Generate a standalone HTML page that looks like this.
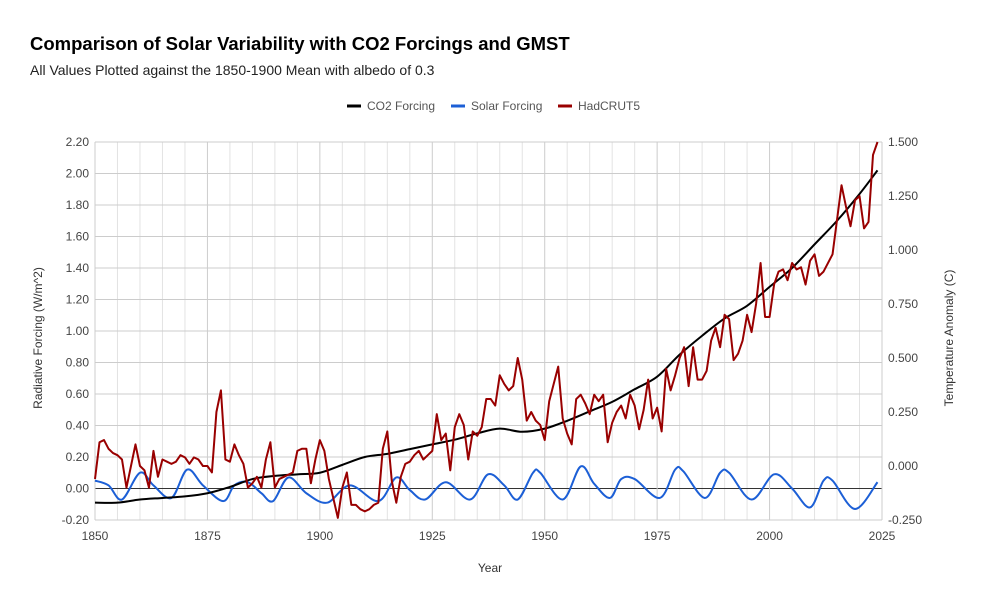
<!DOCTYPE html>
<html><head><meta charset="utf-8"><style>
body{margin:0;background:#fff;font-family:"Liberation Sans",sans-serif}
svg text{font-family:"Liberation Sans",sans-serif}
</style></head><body>
<svg id="c" width="986" height="605">
<text x="30" y="50" font-size="18.5" font-weight="bold" fill="#000">Comparison of Solar Variability with CO2 Forcings and GMST</text>
<text x="30" y="75" font-size="14" fill="#222">All Values Plotted against the 1850-1900 Mean with albedo of 0.3</text>
<g font-size="12" fill="#555">
<g><line x1="347" y1="106" x2="361" y2="106" stroke="#000" stroke-width="3"/><text x="367" y="110">CO2 Forcing</text></g>
<g><line x1="451" y1="106" x2="465" y2="106" stroke="#1c5fd6" stroke-width="3"/><text x="471" y="110">Solar Forcing</text></g>
<g><line x1="558" y1="106" x2="572" y2="106" stroke="#990000" stroke-width="3"/><text x="578" y="110">HadCRUT5</text></g>
</g>
<g id="grid"></g>
<g id="axes"></g>
<g id="series"></g>
<text transform="translate(42,338) rotate(-90)" text-anchor="middle" font-size="12" fill="#333">Radiative Forcing (W/m^2)</text>
<text transform="translate(953,338) rotate(-90)" text-anchor="middle" font-size="12" fill="#333">Temperature Anomaly (C)</text>
<text x="490" y="572" text-anchor="middle" font-size="12" fill="#333">Year</text>
</svg>
<script>
const leftTicks=[-0.2,0,0.2,0.4,0.6,0.8,1.0,1.2,1.4,1.6,1.8,2.0,2.2];
const rightTicks=[-0.25,0,0.25,0.5,0.75,1.0,1.25,1.5];
const xTicks=[1850,1875,1900,1925,1950,1975,2000,2025];
const co2Years=[1850,1855,1860,1865,1870,1875,1880,1885,1890,1895,1900,1905,1910,1915,1920,1925,1930,1935,1940,1945,1950,1955,1960,1965,1970,1975,1980,1985,1990,1995,2000,2005,2010,2015,2020,2024];
const co2Values=[-0.09,-0.09,-0.07,-0.06,-0.05,-0.03,0.01,0.06,0.08,0.09,0.10,0.15,0.20,0.22,0.25,0.28,0.31,0.35,0.38,0.36,0.38,0.43,0.49,0.55,0.63,0.71,0.85,0.97,1.08,1.16,1.28,1.40,1.55,1.70,1.87,2.02];
const solarYears=[1850,1853,1856,1860,1863,1867,1870.5,1874,1878.5,1881,1884,1887,1889.6,1893,1897,1901.6,1906.7,1913,1917,1920,1923.4,1928,1933.4,1937.4,1941,1944,1947.4,1949,1954,1958,1961,1964.5,1967,1970,1975.6,1979,1980.8,1985.6,1989,1991,1996,2001,2005,2009,2012,2014,2019,2024];
const solarValues=[0.05,0.02,-0.07,0.10,0.02,-0.06,0.12,0.02,-0.08,0.02,0.04,-0.03,-0.08,0.07,-0.03,-0.09,0.02,-0.08,0.07,-0.01,-0.07,0.04,-0.07,0.09,0.02,-0.07,0.10,0.10,-0.07,0.14,0.03,-0.06,0.06,0.06,-0.06,0.12,0.11,-0.06,0.10,0.10,-0.07,0.09,0.0,-0.12,0.05,0.05,-0.13,0.04];
const hadStart=1850;
const hadValues=[-0.06,0.11,0.12,0.08,0.06,0.05,0.03,-0.10,0.0,0.10,0.0,-0.02,-0.10,0.07,-0.05,0.03,0.02,0.01,0.02,0.05,0.04,0.01,0.04,0.03,0.0,0.0,-0.03,0.25,0.35,0.03,0.02,0.10,0.05,0.01,-0.10,-0.08,-0.05,-0.10,0.03,0.11,-0.10,-0.06,-0.05,-0.04,-0.03,0.07,0.08,0.08,-0.08,0.03,0.12,0.07,-0.06,-0.15,-0.24,-0.10,-0.03,-0.18,-0.18,-0.20,-0.21,-0.20,-0.18,-0.17,0.08,0.16,-0.07,-0.17,-0.05,0.01,0.02,0.05,0.07,0.03,0.05,0.07,0.24,0.12,0.15,-0.02,0.18,0.24,0.19,0.03,0.16,0.14,0.18,0.31,0.31,0.28,0.42,0.38,0.35,0.37,0.50,0.40,0.21,0.25,0.21,0.19,0.12,0.30,0.38,0.46,0.22,0.15,0.10,0.31,0.33,0.29,0.24,0.33,0.30,0.33,0.11,0.20,0.25,0.28,0.22,0.33,0.28,0.17,0.26,0.40,0.22,0.27,0.16,0.45,0.35,0.42,0.50,0.55,0.37,0.55,0.40,0.40,0.44,0.58,0.64,0.55,0.70,0.68,0.49,0.52,0.58,0.70,0.62,0.75,0.94,0.69,0.69,0.84,0.90,0.91,0.86,0.94,0.91,0.92,0.84,0.95,0.98,0.88,0.90,0.94,0.98,1.14,1.30,1.20,1.11,1.23,1.25,1.10,1.13,1.44,1.50];

const X0=95,X1=882,YT=142,YB=520;
const xs=y=>X0+(y-1850)/(2025-1850)*(X1-X0);
const yL=v=>YB-(v+0.2)/2.4*(YB-YT);
const yR=v=>YB-(v+0.25)/1.75*(YB-YT);
const NS='http://www.w3.org/2000/svg';
function mk(tag,attrs,parent){const e=document.createElementNS(NS,tag);for(const k in attrs)e.setAttribute(k,attrs[k]);parent.appendChild(e);return e;}
const grid=document.getElementById('grid'),axes=document.getElementById('axes'),series=document.getElementById('series');
for(let y=1855;y<2025;y+=5){if((y-1850)%25===0)continue;
 const l=mk('line',{x1:xs(y),x2:xs(y),y1:YT,y2:YB,stroke:'#e3e3e3','stroke-width':1},grid);
 
 }
leftTicks.forEach(v=>{const l=mk('line',{x1:X0,x2:X1,y1:yL(v),y2:yL(v),stroke:v===0?'#333':'#ccc','stroke-width':1},grid);
 
 
 const t=mk('text',{x:X0-6,y:yL(v)+4,'text-anchor':'end','font-size':12,fill:'#444'},axes);t.textContent=v.toFixed(2);
 
 });
xTicks.forEach(y=>{const l=mk('line',{x1:xs(y),x2:xs(y),y1:YT,y2:YB,stroke:'#ccc','stroke-width':1},grid);
 
 
 const t=mk('text',{x:xs(y),y:YB+20,'text-anchor':'middle','font-size':12,fill:'#444'},axes);t.textContent=y;
 
 });
rightTicks.forEach(v=>{const t=mk('text',{x:X1+6,y:yR(v)+4,'font-size':12,fill:'#444'},axes);t.textContent=v.toFixed(3);
 
 });
function smooth(pts){let d='M'+pts[0][0]+','+pts[0][1];
 for(let i=0;i<pts.length-1;i++){const p0=pts[i-1]||pts[i],p1=pts[i],p2=pts[i+1],p3=pts[i+2]||p2;
  d+=' C'+(p1[0]+(p2[0]-p0[0])/6)+','+(p1[1]+(p2[1]-p0[1])/6)+' '+(p2[0]-(p3[0]-p1[0])/6)+','+(p2[1]-(p3[1]-p1[1])/6)+' '+p2[0]+','+p2[1];}
 return d;}
const solarPts=solarYears.map((y,i)=>[xs(y),yL(solarValues[i])]);
const s=mk('path',{d:smooth(solarPts),fill:'none',stroke:'#1c5fd6','stroke-width':2},series);


const co2Pts=co2Years.map((y,i)=>[xs(y),yL(co2Values[i])]);
const c=mk('path',{d:smooth(co2Pts),fill:'none',stroke:'#000','stroke-width':2},series);


const h=mk('polyline',{points:hadValues.map((v,i)=>xs(hadStart+i)+','+yR(v)).join(' '),fill:'none',stroke:'#990000','stroke-width':2,'stroke-linejoin':'round'},series);


</script>
</body></html>
